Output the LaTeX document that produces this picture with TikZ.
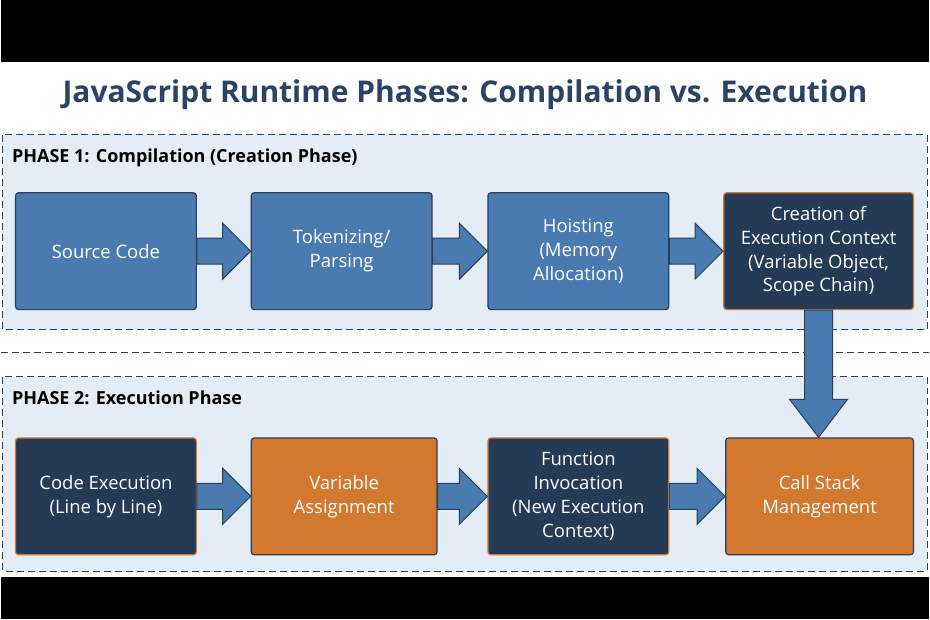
\documentclass[tikz,border=0pt]{standalone}
\usepackage{fontspec}
\setmainfont{Open Sans}
\usetikzlibrary{calc}
\definecolor{boxblue}{HTML}{4A7BB0}
\definecolor{navy}{HTML}{243A55}
\definecolor{orng}{HTML}{D2782F}
\definecolor{phasefill}{HTML}{E4EDF6}
\definecolor{edge}{HTML}{2A3F5A}
\definecolor{titlec}{HTML}{2B4466}
\tikzset{
  box/.style={draw=edge, line width=1.2pt, rounded corners=3pt, text=white,
    minimum width=181pt, minimum height=117pt, align=center, font=\fontsize{18.5}{24}\selectfont},
  bluebox/.style={box, fill=boxblue},
  navybox/.style={box, fill=navy, draw=orng},
  orangebox/.style={box, fill=orng, draw=edge},
  phase/.style={draw=edge, line width=1.2pt, dash pattern=on 7pt off 4pt, fill=phasefill},
  plabel/.style={anchor=west, text=black, font=\bfseries\fontsize{18}{21}\selectfont},
  barrow/.style={draw=edge, line width=1pt, fill=boxblue, line join=miter}
}
\newcommand{\harrow}[2]{%
  \draw[barrow] let \p1=(#1.east), \p2=(#2.west) in
    (\x1,\y1+13) -- (\x2-28,\y1+13) -- (\x2-28,\y1+28) -- (\x2,\y1)
    -- (\x2-28,\y1-28) -- (\x2-28,\y1-13) -- (\x1,\y1-13) -- cycle;}
\begin{document}
\begin{tikzpicture}[x=1pt,y=-1pt]
\fill[black] (0,0) rectangle (930,620);
\fill[white] (0,62) rectangle (930,578);
\node[text=titlec, font=\bfseries\fontsize{30}{34}\selectfont] (title) at (465,95) {JavaScript Runtime Phases: Compilation vs. Execution};
% phase frames
\draw[phase] (2,135) rectangle (928,330);
\draw[edge, line width=1.2pt, dash pattern=on 7pt off 4pt] (0,353) -- (930,353);
\draw[phase] (2,377) rectangle (928,572);
\node[plabel] (p1) at (8,158) {PHASE 1: Compilation (Creation Phase)};
\node[plabel] (p2) at (8,398) {PHASE 2: Execution Phase};
% phase 1 boxes
\node[bluebox] (src) at (105.5,251.5) {Source Code};
\node[bluebox] (tok) at (341.5,251.5) {Tokenizing/\\Parsing};
\node[bluebox] (hoist) at (578.5,251.5) {Hoisting\\(Memory\\Allocation)};
\node[navybox, minimum width=190pt] (ctx) at (819,251.5) {Creation of\\Execution Context\\(Variable Object,\\Scope Chain)};
% phase 2 boxes
\node[navybox] (exec) at (105.5,497) {Code Execution\\(Line by Line)};
\node[orangebox, minimum width=186pt] (assign) at (344,497) {Variable\\Assignment};
\node[navybox] (func) at (578.5,497) {Function\\Invocation\\(New Execution\\Context)};
\node[orangebox, minimum width=188pt] (stack) at (820,497) {Call Stack\\Management};
% arrows
\harrow{src}{tok}
\harrow{tok}{hoist}
\harrow{hoist}{ctx}
\harrow{exec}{assign}
\harrow{assign}{func}
\harrow{func}{stack}
\draw[barrow] let \p1=(ctx.south), \p2=(stack.north) in
  (\x1-14,\y1) -- (\x1-14,\y2+38) -- (\x1-29,\y2+38) -- (\x1,\y2)
  -- (\x1+29,\y2+38) -- (\x1+14,\y2+38) -- (\x1+14,\y1) -- cycle;
\end{tikzpicture}
\end{document}
